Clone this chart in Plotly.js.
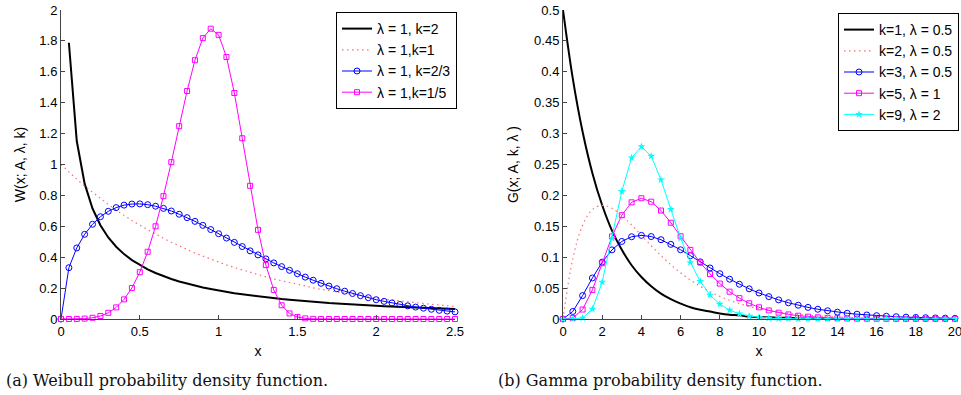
<!DOCTYPE html>
<html>
<head>
<meta charset="utf-8">
<script src="https://cdn.plot.ly/plotly-3.0.1.min.js"></script>
<style>html,body{margin:0;padding:0;background:#fff;}#chart{width:961px;height:395px;}</style>
</head>
<body>
<div id="chart"></div>
<script>
// ---- Weibull panel data (x step 0.05) ----
var weibullX = [0,0.05,0.1,0.15,0.2,0.25,0.3,0.35,0.4,0.45,0.5,0.55,0.6,0.65,0.7,0.75,0.8,0.85,0.9,0.95,1,1.05,1.1,1.15,1.2,1.25,1.3,1.35,1.4,1.45,1.5,1.55,1.6,1.65,1.7,1.75,1.8,1.85,1.9,1.95,2,2.05,2.1,2.15,2.2,2.25,2.3,2.35,2.4,2.45,2.5];
var weibullBlackX = [0.05,0.1,0.15,0.2,0.25,0.3,0.35,0.4,0.45,0.5,0.55,0.6,0.65,0.7,0.75,0.8,0.85,0.9,0.95,1,1.05,1.1,1.15,1.2,1.25,1.3,1.35,1.4,1.45,1.5,1.55,1.6,1.65,1.7,1.75,1.8,1.85,1.9,1.95,2,2.05,2.1,2.15,2.2,2.25,2.3,2.35,2.4,2.45,2.5];
var weibullBlack = [1.788,1.152,0.876,0.715,0.607,0.528,0.468,0.420,0.381,0.349,0.321,0.298,0.277,0.259,0.243,0.229,0.216,0.204,0.194,0.184,0.175,0.167,0.160,0.153,0.146,0.140,0.135,0.129,0.125,0.120,0.116,0.112,0.108,0.104,0.101,0.097,0.094,0.091,0.089,0.086,0.083,0.081,0.079,0.076,0.074,0.072,0.070,0.069,0.067,0.065];
var weibullRed = [1.000,0.951,0.905,0.861,0.819,0.779,0.741,0.705,0.670,0.638,0.607,0.577,0.549,0.522,0.497,0.472,0.449,0.427,0.407,0.387,0.368,0.350,0.333,0.317,0.301,0.287,0.273,0.259,0.247,0.235,0.223,0.212,0.202,0.192,0.183,0.174,0.165,0.157,0.150,0.142,0.135,0.129,0.122,0.116,0.111,0.105,0.100,0.095,0.091,0.086,0.082];
var weibullBlue = [0,0.332,0.460,0.548,0.613,0.662,0.697,0.721,0.737,0.744,0.745,0.740,0.730,0.716,0.699,0.678,0.656,0.632,0.606,0.579,0.552,0.524,0.496,0.469,0.441,0.415,0.389,0.363,0.339,0.315,0.293,0.271,0.251,0.231,0.213,0.196,0.180,0.165,0.151,0.138,0.125,0.114,0.104,0.094,0.085,0.077,0.070,0.063,0.056,0.051,0.046];
var weibullMagenta = [0,0,0.0005,0.0025,0.008,0.0195,0.040,0.075,0.127,0.201,0.303,0.435,0.600,0.795,1.015,1.248,1.476,1.675,1.818,1.879,1.839,1.696,1.463,1.170,0.862,0.577,0.349,0.188,0.089,0.036,0.013,0.004,0.001,0,0,0,0,0,0,0,0,0,0,0,0,0,0,0,0,0,0];
var weibullNames = ['\u03bb = 1, k=2', '\u03bb = 1,k=1', '\u03bb = 1, k=2/3', '\u03bb = 1,k=1/5'];

// ---- Gamma panel data (x step 0.5) ----
var gammaX = [0,0.5,1,1.5,2,2.5,3,3.5,4,4.5,5,5.5,6,6.5,7,7.5,8,8.5,9,9.5,10,10.5,11,11.5,12,12.5,13,13.5,14,14.5,15,15.5,16,16.5,17,17.5,18,18.5,19,19.5,20];
var gammaBlack = [0.5,0.389,0.303,0.236,0.184,0.143,0.112,0.087,0.068,0.053,0.041,0.032,0.025,0.019,0.015,0.012,0.009,0.007,0.006,0.004,0.003,0.003,0.002,0.002,0.001,0.001,0.001,0.001,0,0,0,0,0,0,0,0,0,0,0,0,0];
var gammaRed = [0,0.0974,0.1516,0.1771,0.1839,0.1791,0.1673,0.1521,0.1353,0.1186,0.1026,0.0879,0.0747,0.0630,0.0529,0.0441,0.0366,0.0303,0.0250,0.0205,0.0168,0.0138,0.0112,0.0091,0.0074,0.0060,0.0049,0.0039,0.0032,0.0026,0.0021,0.0017,0.0013,0.0011,0.0009,0.0007,0.0006,0.0004,0.0004,0.0003,0.0002];
var gammaBlue = [0,0.0122,0.0379,0.0664,0.0920,0.1119,0.1255,0.1331,0.1353,0.1334,0.1283,0.1208,0.1120,0.1025,0.0925,0.0826,0.0733,0.0644,0.0562,0.0488,0.0421,0.0362,0.0309,0.0263,0.0223,0.0188,0.0158,0.0133,0.0111,0.0093,0.0078,0.0065,0.0054,0.0044,0.0037,0.0030,0.0025,0.0021,0.0017,0.0014,0.0011];
var gammaMagenta = [0,0.0016,0.0153,0.0471,0.0902,0.1336,0.1680,0.1888,0.1954,0.1898,0.1755,0.1558,0.1339,0.1118,0.0912,0.0729,0.0573,0.0442,0.0337,0.0254,0.0189,0.0139,0.0102,0.0074,0.0053,0.0038,0.0027,0.0019,0.0013,0.0009,0.0006,0.0004,0.0003,0.0002,0.0001,0.0001,0,0,0,0,0];
var gammaCyan = [0,0,0.0017,0.0162,0.0596,0.1306,0.2065,0.2608,0.2790,0.2635,0.2252,0.1776,0.1310,0.0915,0.0609,0.0389,0.0240,0.0143,0.0083,0.0047,0.0026,0.0014,0.0007,0.0004,0.0002,0.0001,0,0,0,0,0,0,0,0,0,0,0,0,0,0,0];
var gammaNames = ['k=1, \u03bb = 0.5', 'k=2, \u03bb = 0.5', 'k=3, \u03bb = 0.5', 'k=5, \u03bb = 1', 'k=9, \u03bb = 2'];

var weibullTicksY = [0,0.2,0.4,0.6,0.8,1,1.2,1.4,1.6,1.8,2];
var weibullTicksX = [0,0.5,1,1.5,2,2.5];
var gammaTicksY = [0,0.05,0.1,0.15,0.2,0.25,0.3,0.35,0.4,0.45,0.5];
var gammaTicksX = [0,2,4,6,8,10,12,14,16,18,20];

var FONT = '"Liberation Sans", Arial, Helvetica, sans-serif';
var BLUE = '#0000ff', MAG = '#ff00ff', CYAN = '#00ffff', RED = 'rgb(255,110,110)';
var DOTS = '1.5px,3.5px';

var traces = [
  {x: weibullBlackX, y: weibullBlack, name: weibullNames[0], mode: 'lines', line: {color: '#000', width: 2}, xaxis: 'x', yaxis: 'y', legend: 'legend', cliponaxis: false},
  {x: weibullX, y: weibullRed, name: weibullNames[1], mode: 'lines', line: {color: RED, width: 1.2, dash: DOTS}, xaxis: 'x', yaxis: 'y', legend: 'legend', cliponaxis: false},
  {x: weibullX, y: weibullBlue, name: weibullNames[2], mode: 'lines+markers', line: {color: BLUE, width: 1}, marker: {symbol: 'circle-open', size: 6, color: BLUE, line: {width: 1, color: BLUE}}, xaxis: 'x', yaxis: 'y', legend: 'legend', cliponaxis: false},
  {x: weibullX, y: weibullMagenta, name: weibullNames[3], mode: 'lines+markers', line: {color: MAG, width: 1}, marker: {symbol: 'square-open', size: 5, color: MAG, line: {width: 1, color: MAG}}, xaxis: 'x', yaxis: 'y', legend: 'legend', cliponaxis: false},

  {x: gammaX, y: gammaBlack, name: gammaNames[0], mode: 'lines', line: {color: '#000', width: 2, shape: 'spline'}, xaxis: 'x2', yaxis: 'y2', legend: 'legend2', cliponaxis: false},
  {x: gammaX, y: gammaRed, name: gammaNames[1], mode: 'lines', line: {color: RED, width: 1.2, dash: DOTS, shape: 'spline'}, xaxis: 'x2', yaxis: 'y2', legend: 'legend2', cliponaxis: false},
  {x: gammaX, y: gammaBlue, name: gammaNames[2], mode: 'lines+markers', line: {color: BLUE, width: 1}, marker: {symbol: 'circle-open', size: 6, color: BLUE, line: {width: 1, color: BLUE}}, xaxis: 'x2', yaxis: 'y2', legend: 'legend2', cliponaxis: false},
  {x: gammaX, y: gammaMagenta, name: gammaNames[3], mode: 'lines+markers', line: {color: MAG, width: 1}, marker: {symbol: 'square-open', size: 5, color: MAG, line: {width: 1, color: MAG}}, xaxis: 'x2', yaxis: 'y2', legend: 'legend2', cliponaxis: false},
  {x: gammaX, y: gammaCyan, name: gammaNames[4], mode: 'lines+markers', line: {color: CYAN, width: 1}, marker: {symbol: 'star', size: 6, color: CYAN, line: {width: 0}}, xaxis: 'x2', yaxis: 'y2', legend: 'legend2', cliponaxis: false}
];

function axisBase(extra) {
  var a = {
    showgrid: false, zeroline: false, showline: true, linecolor: '#444', linewidth: 1,
    ticks: 'inside', ticklen: 4, tickcolor: '#444', tickwidth: 1, ticklabeloverflow: 'allow',
    tickfont: {family: FONT, size: 13, color: '#000'}, mirror: false, fixedrange: true
  };
  for (var k in extra) a[k] = extra[k];
  return a;
}

var legendBase = {
  xanchor: 'left', yanchor: 'top', bgcolor: '#fff', bordercolor: '#000', borderwidth: 1,
  font: {family: FONT, size: 14, color: '#000'}, tracegroupgap: 0, itemwidth: 30
};
function legendAt(x, y) { var l = {}; for (var k in legendBase) l[k] = legendBase[k]; l.x = x; l.y = y; return l; }

var titleFont = {family: FONT, size: 14, color: '#000'};
var capFont = {family: '"DejaVu Serif", serif', size: 16, color: '#111'};

var layout = {
  width: 961, height: 395,
  margin: {l: 0, r: 0, t: 0, b: 0},
  paper_bgcolor: '#fff', plot_bgcolor: '#fff',
  showlegend: true,
  xaxis: axisBase({domain: [61/961, 455/961], range: [0, 2.5], tickvals: weibullTicksX, anchor: 'y',
    title: {text: 'x', font: titleFont, standoff: 8}}),
  yaxis: axisBase({domain: [76/395, 385/395], range: [0, 2], tickvals: weibullTicksY, anchor: 'x',
    title: {text: 'W(x; A, \u03bb, k)', font: titleFont, standoff: 10}}),
  xaxis2: axisBase({domain: [563/961, 955/961], range: [0, 20], tickvals: gammaTicksX, anchor: 'y2',
    title: {text: 'x', font: titleFont, standoff: 8}}),
  yaxis2: axisBase({domain: [76/395, 385/395], range: [0, 0.5], tickvals: gammaTicksY, anchor: 'x2',
    title: {text: 'G(x; A, k, \u03bb )', font: titleFont, standoff: 12}}),
  legend: legendAt(336/961, 1 - 12/395),
  legend2: legendAt(838/961, 1 - 13/395),
  annotations: [
    {text: '(a) Weibull probability density function.', xref: 'paper', yref: 'paper', x: 4/961, y: 1 - 380/395,
     xanchor: 'left', yanchor: 'middle', showarrow: false, font: capFont},
    {text: '(b) Gamma probability density function.', xref: 'paper', yref: 'paper', x: 496/961, y: 1 - 380/395,
     xanchor: 'left', yanchor: 'middle', showarrow: false, font: capFont}
  ]
};

Plotly.newPlot('chart', traces, layout, {displayModeBar: false, staticPlot: true});
</script>
</body>
</html>
